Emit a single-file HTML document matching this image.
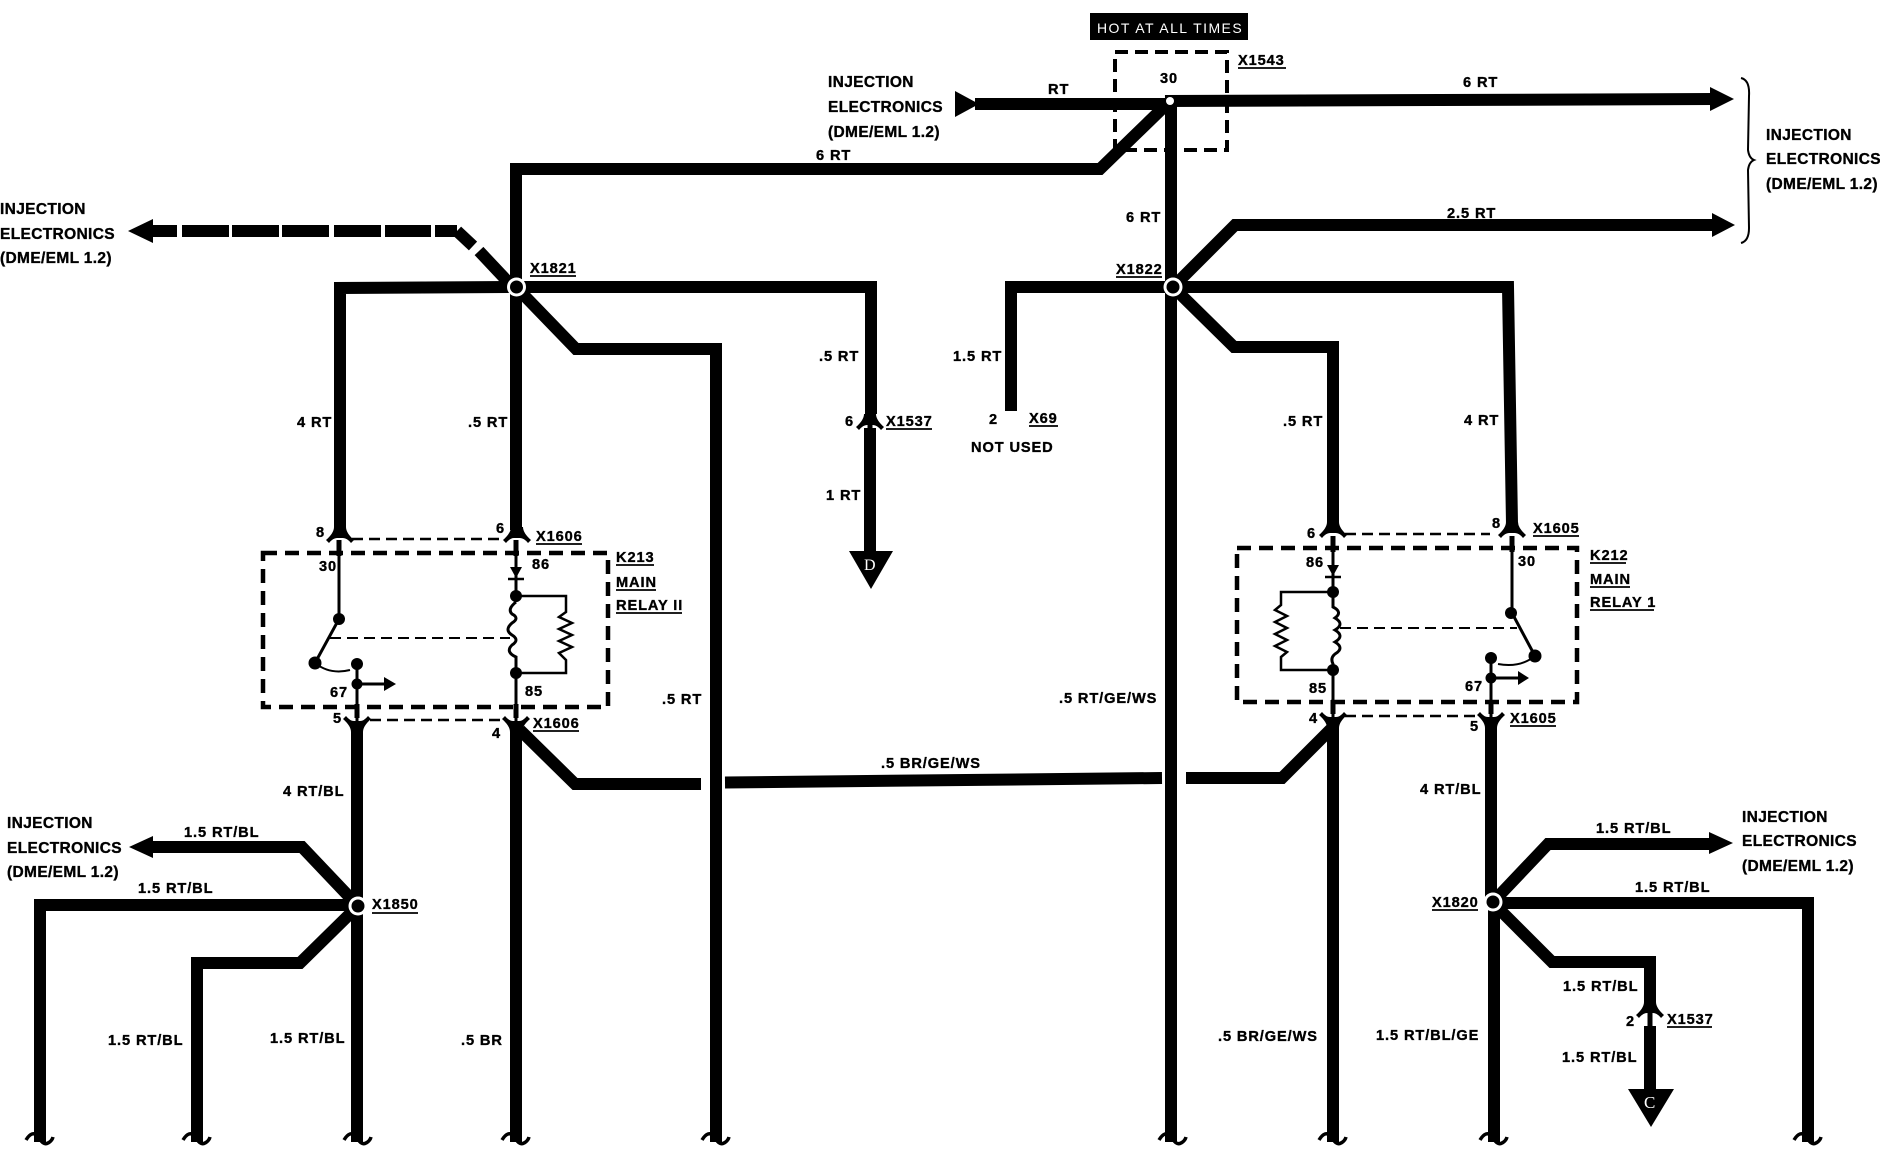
<!DOCTYPE html>
<html><head><meta charset="utf-8"><style>
html,body{margin:0;padding:0;background:#fff}
svg{display:block}
text{font-family:"Liberation Sans",sans-serif;font-weight:bold;font-size:14.6px;letter-spacing:.9px;fill:#000;stroke:#000;stroke-width:.35px}
.b{font-size:15.5px;letter-spacing:.35px}
.w{fill:none;stroke:#000;stroke-width:12;stroke-linejoin:miter}
.t{fill:none;stroke:#000;stroke-width:3}
.d{fill:none;stroke:#000;stroke-width:2.5;stroke-dasharray:11 6}
.box{fill:none;stroke:#000;stroke-width:4.5;stroke-dasharray:14 8}
.u{stroke:#000;stroke-width:1.8}
</style></head><body>
<svg width="1880" height="1152" viewBox="0 0 1880 1152" xmlns="http://www.w3.org/2000/svg">
<rect width="1880" height="1152" fill="#fff"/>
<defs>
<path id="capT" d="M-6 -10Q-6 -4 -14 3L-11 6Q-7 1 -3 1H3Q7 1 11 6L14 3Q6 -4 6 -10Z" fill="#000"/>
<path id="capB" d="M-6 10Q-6 4 -14 -3L-11 -6Q-7 -1 -3 -1H3Q7 -1 11 -6L14 -3Q6 4 6 10Z" fill="#000"/>
<path id="sq" d="M-14 2Q-8 -8 -2 -2Q3 8 8 5Q12 3 13 -1" fill="none" stroke="#000" stroke-width="3.5"/>
<g id="j"><circle r="9.5" fill="#fff"/><circle r="6.5" fill="#000"/></g>
</defs>

<!-- heavy wires -->
<path class="w" d="M975 104H1165"/>
<path class="w" d="M1165 101L1714 99"/>
<polygon points="955,91 979,104 955,117"/>
<polygon points="1710,87 1734,99 1710,111"/>
<path class="w" d="M1171 101V1142"/>
<path class="w" d="M516 530V169H1100L1167 104"/>
<path class="w" d="M340 530V288L516 287H871V414"/>
<path class="w" d="M870 428V552"/>
<polygon points="849,551 893,551 871,589"/>
<text x="864" y="570" style="fill:#fff;stroke:none;font-family:'Liberation Serif',serif;font-weight:normal;font-size:16px">D</text>
<path class="w" d="M516 287L576 349H716V1142"/>
<path class="w" d="M1173 287H1011V411"/>
<path class="w" d="M1173 287H1508L1512 524"/>
<path class="w" d="M1173 287L1235 225H1715"/>
<polygon points="1712,213 1735,225 1712,237"/>
<path class="w" d="M1173 287L1234 347H1333V525"/>

<!-- dashed heavy -->
<polygon points="128,231 153,219 153,243"/>
<g fill="#000">
<rect x="150" y="225" width="27" height="12"/><rect x="182" y="225" width="47" height="12"/><rect x="232" y="225" width="47" height="12"/><rect x="282" y="225" width="47" height="12"/><rect x="334" y="225" width="47" height="12"/><rect x="385" y="225" width="46" height="12"/><rect x="435" y="225" width="22" height="12"/>
</g>
<path class="w" d="M457 231L473 246"/>
<path class="w" d="M479 251L510 284"/>

<!-- lower section -->
<path class="w" d="M357 727V1142"/>
<path class="w" d="M516 727V1142"/>
<path class="w" d="M520 730L575 784H701"/>
<path class="w" d="M725 782.5L1162 778"/>
<path class="w" d="M1186 778H1282L1333 727"/>
<path class="w" d="M1333 725V1142"/>
<path class="w" d="M1491 725L1491 902"/>
<path class="w" d="M1494 902V1142"/>

<!-- X1850 branches -->
<path class="w" d="M358 906L302 847H150"/>
<polygon points="129,847 153,836 153,858"/>
<path class="w" d="M358 905H40V1142"/>
<path class="w" d="M358 906L300 963H197V1142"/>

<!-- X1820 branches -->
<path class="w" d="M1493 902L1548 844H1712"/>
<polygon points="1709,832 1733,843 1709,854"/>
<path class="w" d="M1493 903H1808V1142"/>
<path class="w" d="M1493 903L1552 962H1650V1004"/>
<path class="w" d="M1650 1026V1090"/>
<polygon points="1628,1089 1674,1089 1651,1127"/>
<text x="1644" y="1108" style="fill:#fff;stroke:none;font-family:'Liberation Serif',serif;font-weight:normal;font-size:17px">C</text>
<use href="#capT" x="1650" y="1012"/>
<path d="M1650 1012V1028" stroke="#000" stroke-width="5"/>

<!-- connector caps -->
<use href="#capT" x="340" y="537"/><use href="#capT" x="517" y="537"/>
<use href="#capB" x="357" y="722"/><use href="#capB" x="516" y="722"/>
<use href="#capT" x="1333" y="532"/><use href="#capT" x="1512" y="532"/>
<use href="#capB" x="1333" y="718"/><use href="#capB" x="1491" y="718"/>
<use href="#capT" x="870" y="424"/>
<path d="M870 424V430" stroke="#000" stroke-width="5"/>
<!-- stubs -->
<g stroke="#000" stroke-width="5">
<path d="M339 540V556"/><path d="M516 540V556"/><path d="M357 704V718"/><path d="M516 704V718"/>
<path d="M1333 536V552"/><path d="M1512 536V552"/><path d="M1333 700V714"/><path d="M1491 700V714"/>
</g>

<!-- squiggle ends -->
<use href="#sq" x="40" y="1138"/><use href="#sq" x="197" y="1138"/><use href="#sq" x="358" y="1138"/><use href="#sq" x="516" y="1138"/><use href="#sq" x="716" y="1138"/><use href="#sq" x="1173" y="1138"/><use href="#sq" x="1333" y="1138"/><use href="#sq" x="1494" y="1138"/><use href="#sq" x="1808" y="1138"/>

<!-- junctions -->
<circle cx="1170" cy="101" r="4" fill="#fff"/>
<use href="#j" x="516.5" y="287"/><use href="#j" x="1173" y="287"/><use href="#j" x="358" y="906"/><use href="#j" x="1493" y="902"/>

<!-- box at top -->
<rect x="1115" y="52" width="112" height="98" fill="none" stroke="#000" stroke-width="4" stroke-dasharray="13 7"/>
<rect x="1090" y="13" width="158" height="27" fill="#000"/>
<text x="1097" y="33" style="fill:#fff;stroke:none;font-weight:normal;font-size:14px;letter-spacing:1.45px">HOT AT ALL TIMES</text>

<!-- brace -->
<path d="M1741 78Q1750 80 1749 96L1748 150Q1749 158 1754 160Q1749 162 1748 170L1749 228Q1749 241 1741 243" fill="none" stroke="#000" stroke-width="2"/>

<!-- relay II -->
<rect x="263" y="553" width="345" height="154" class="box"/>
<path class="d" d="M352 539H505"/><path class="d" d="M370 720H505"/>
<path class="t" d="M339 541V619L315 663"/>
<circle cx="339" cy="619" r="6"/><circle cx="315" cy="663" r="6.5"/>
<path class="d" d="M330 638H510" style="stroke-width:2"/>
<path d="M315 663Q330 675 350 670" fill="none" stroke="#000" stroke-width="2"/>
<circle cx="357" cy="664" r="6"/><circle cx="357" cy="684" r="5.5"/>
<path class="t" d="M357 664V722M357 684H386"/>
<polygon points="384,677 396,684 384,691"/>
<path class="t" d="M516 541V602" />
<polygon points="510,567 522,567 516,578"/>
<path d="M508 579H524" stroke="#000" stroke-width="2.5"/>
<circle cx="516" cy="596" r="6"/><circle cx="516" cy="673" r="6"/>
<path class="t" d="M516 602Q507 609 512 614Q520 618 512 623Q504 630 512 635Q520 640 512 645Q505 652 516 657V722"/>
<path style="fill:none;stroke:#000;stroke-width:2.5" d="M516 596H566V612L559 617L572 623L559 629L572 635L559 641L572 647L559 653L566 660V673H516"/>

<!-- relay I -->
<rect x="1237" y="548" width="340" height="154" class="box"/>
<path class="d" d="M1345 534H1490"/><path class="d" d="M1345 716H1480"/>
<path class="t" d="M1512 536V613L1535 656"/>
<circle cx="1511" cy="613" r="6"/><circle cx="1535" cy="656" r="6.5"/>
<path class="d" d="M1340 628H1517" style="stroke-width:2"/>
<path d="M1535 656Q1520 668 1498 664" fill="none" stroke="#000" stroke-width="2"/>
<circle cx="1491" cy="658" r="6"/><circle cx="1491" cy="678" r="5.5"/>
<path class="t" d="M1491 658V718M1491 678H1518"/>
<polygon points="1518,671 1529,678 1518,685"/>
<path class="t" d="M1333 536V598"/>
<polygon points="1327,565 1339,565 1333,576"/>
<path d="M1325 577H1341" stroke="#000" stroke-width="2.5"/>
<circle cx="1333" cy="592" r="6"/><circle cx="1333" cy="670" r="6"/>
<path class="t" d="M1333 598V607Q1343 612 1335 618Q1345 624 1335 630Q1345 636 1335 642Q1345 648 1335 654Q1330 658 1333 664V718"/>
<path style="fill:none;stroke:#000;stroke-width:2.5" d="M1333 592H1281V605L1275 610L1287 616L1275 622L1287 628L1275 634L1287 640L1275 646L1287 652L1281 657V670H1333"/>

<!-- labels -->
<text class="b" x="828" y="87">INJECTION</text><text class="b" x="828" y="112">ELECTRONICS</text><text class="b" x="828" y="137">(DME/EML 1.2)</text>
<text class="b" x="1766" y="140">INJECTION</text><text class="b" x="1766" y="164">ELECTRONICS</text><text class="b" x="1766" y="189">(DME/EML 1.2)</text>
<text class="b" x="0" y="214">INJECTION</text><text class="b" x="0" y="239">ELECTRONICS</text><text class="b" x="0" y="263">(DME/EML 1.2)</text>
<text class="b" x="7" y="828">INJECTION</text><text class="b" x="7" y="853">ELECTRONICS</text><text class="b" x="7" y="877">(DME/EML 1.2)</text>
<text class="b" x="1742" y="822">INJECTION</text><text class="b" x="1742" y="846">ELECTRONICS</text><text class="b" x="1742" y="871">(DME/EML 1.2)</text>

<text x="1160" y="83">30</text>
<text x="1048" y="94">RT</text>
<text x="816" y="160">6 RT</text>
<text x="1126" y="222">6 RT</text>
<text x="1463" y="87">6 RT</text>
<text x="1447" y="218">2.5 RT</text>
<text x="297" y="427">4 RT</text>
<text x="468" y="427">.5 RT</text>
<text x="819" y="361">.5 RT</text>
<text x="845" y="426">6</text>
<text x="826" y="500">1 RT</text>
<text x="953" y="361">1.5 RT</text>
<text x="989" y="424">2</text>
<text x="971" y="452">NOT USED</text>
<text x="662" y="704">.5 RT</text>
<text x="1059" y="703">.5 RT/GE/WS</text>
<text x="881" y="768">.5 BR/GE/WS</text>
<text x="1283" y="426">.5 RT</text>
<text x="1464" y="425">4 RT</text>
<text x="316" y="537">8</text><text x="496" y="533">6</text>
<text x="532" y="569">86</text><text x="525" y="696">85</text><text x="330" y="697">67</text><text x="319" y="571">30</text>
<text x="333" y="723">5</text><text x="492" y="738">4</text>
<text x="1307" y="538">6</text><text x="1492" y="528">8</text>
<text x="1306" y="567">86</text><text x="1518" y="566">30</text><text x="1309" y="693">85</text><text x="1465" y="691">67</text>
<text x="1309" y="723">4</text><text x="1470" y="731">5</text>
<text x="283" y="796">4 RT/BL</text><text x="1420" y="794">4 RT/BL</text>
<text x="184" y="837">1.5 RT/BL</text><text x="138" y="893">1.5 RT/BL</text><text x="108" y="1045">1.5 RT/BL</text><text x="270" y="1043">1.5 RT/BL</text>
<text x="461" y="1045">.5 BR</text>
<text x="1218" y="1041">.5 BR/GE/WS</text>
<text x="1376" y="1040">1.5 RT/BL/GE</text>
<text x="1596" y="833">1.5 RT/BL</text><text x="1635" y="892">1.5 RT/BL</text><text x="1563" y="991">1.5 RT/BL</text><text x="1562" y="1062">1.5 RT/BL</text>
<text x="1626" y="1026">2</text>

<!-- underlined refs -->
<text x="1238" y="65">X1543</text><path class="u" d="M1238 68H1286"/>
<text x="1116" y="274">X1822</text><path class="u" d="M1116 277H1162"/>
<text x="530" y="273">X1821</text><path class="u" d="M530 276H576"/>
<text x="886" y="426">X1537</text><path class="u" d="M886 429H932"/>
<text x="1029" y="423">X69</text><path class="u" d="M1029 426H1058"/>
<text x="536" y="541">X1606</text><path class="u" d="M536 544H582"/>
<text x="533" y="728">X1606</text><path class="u" d="M533 731H579"/>
<text x="1533" y="533">X1605</text><path class="u" d="M1533 536H1579"/>
<text x="1510" y="723">X1605</text><path class="u" d="M1510 726H1556"/>
<text x="616" y="562">K213</text><path class="u" d="M616 565H654"/>
<text x="616" y="587">MAIN</text><path class="u" d="M616 590H656"/>
<text x="616" y="610">RELAY II</text><path class="u" d="M616 613H682"/>
<text x="1590" y="560">K212</text><path class="u" d="M1590 563H1626"/>
<text x="1590" y="584">MAIN</text><path class="u" d="M1590 587H1630"/>
<text x="1590" y="607">RELAY 1</text><path class="u" d="M1590 610H1654"/>
<text x="372" y="909">X1850</text><path class="u" d="M372 913H418"/>
<text x="1432" y="907">X1820</text><path class="u" d="M1432 910H1478"/>
<text x="1667" y="1024">X1537</text><path class="u" d="M1667 1027H1712"/>
</svg>
</body></html>
